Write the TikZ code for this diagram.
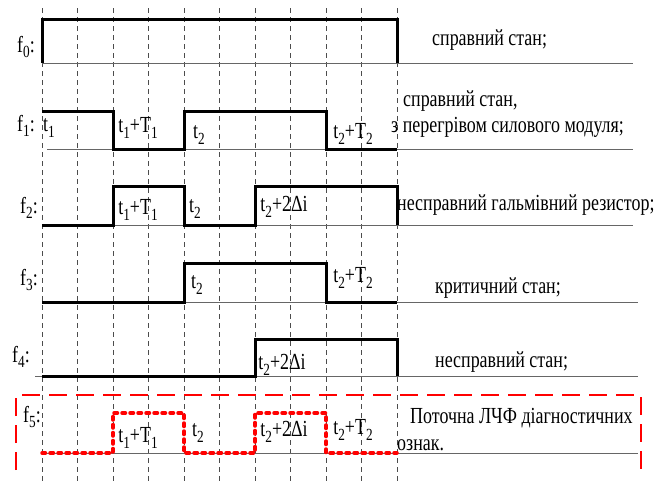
\documentclass[tikz,border=0pt]{standalone}
\usepackage{fontspec}
\setmainfont{Liberation Serif}[FakeStretch=0.78]
% small lowered index used in the signal and time labels
\newcommand\ix[1]{\raisebox{-0.5ex}{\fontsize{17}{17}\selectfont #1}}
\begin{document}
\begin{tikzpicture}[x=1pt,y=-1pt,
  gridline/.style={gray!60!black, line width=0.6pt, dash pattern=on 5pt off 4pt},
  baseline/.style={gray!80!black, line width=1pt},
  sig/.style={line width=3pt, line join=miter},
  dotsig/.style={red, line width=3.5pt, dash pattern=on 3.5pt off 4.5pt, line cap=round},
  frameline/.style={red, line width=1.5pt, dash pattern=on 18pt off 9pt},
  lbl/.style={inner sep=0pt, font=\fontsize{23}{26}\selectfont},
  note/.style={inner sep=0pt, anchor=west, font=\fontsize{23}{26}\selectfont}]
\useasboundingbox (0,0) rectangle (663,483);

% time grid
\foreach \i in {0,...,10}
  \draw[gridline] ({42+35.5*\i},8) -- ({42+35.5*\i},483);

% zero levels
\draw[baseline] (42,63) -- (633,63);
\draw[baseline] (47,149) -- (633,149);
\draw[baseline] (42,225) -- (633,225);
\draw[baseline] (42,302) -- (638,302);
\draw[baseline] (35,376) -- (638,376);
\draw[baseline] (42,453) -- (638,453);

% signals
\draw[sig] (42,63) -- (42,19) -- (397,19) -- (397,63);
\draw[sig] (42,111) -- (113,111) -- (113,149) -- (184,149) -- (184,111) -- (326,111) -- (326,149) -- (397,149);
\draw[sig] (42,225) -- (113,225) -- (113,186) -- (184,186) -- (184,225) -- (255,225) -- (255,186) -- (397,186) -- (397,225);
\draw[sig] (42,302) -- (184,302) -- (184,263) -- (326,263) -- (326,302) -- (397,302);
\draw[sig] (42,376) -- (255,376) -- (255,339) -- (397,339) -- (397,376);
\draw[dotsig] (42,453) -- (113,453) -- (113,413) -- (184,413) -- (184,453) -- (255,453) -- (255,413) -- (326,413) -- (326,453) -- (397,453);

% frame round the current signature
\draw[frameline] (16,470) -- (16,395) -- (641,395) -- (641,470);

% signal names
\node[lbl] (f0) at (26,47) {f\ix{0}:};
\node[lbl] (f1) at (26,126) {f\ix{1}:};
\node[lbl] (f2) at (29,208) {f\ix{2}:};
\node[lbl] (f3) at (29,280) {f\ix{3}:};
\node[lbl] (f4) at (21,357) {f\ix{4}:};
\node[lbl] (f5) at (32,417) {f\ix{5}:};

% time marks
\node[lbl] (a1) at (49,128) {t\ix{1}};
\node[lbl] (a2) at (138,128) {t\ix{1}+T\ix{1}};
\node[lbl] (a3) at (199,135) {t\ix{2}};
\node[lbl] (a4) at (353,134) {t\ix{2}+T\ix{2}};
\node[lbl] (b1) at (138,210) {t\ix{1}+T\ix{1}};
\node[lbl] (b2) at (195,209) {t\ix{2}};
\node[lbl] (b3) at (284,207) {t\ix{2}+2Δi};
\node[lbl] (c1) at (197,285) {t\ix{2}};
\node[lbl] (c2) at (353,278) {t\ix{2}+T\ix{2}};
\node[lbl] (d1) at (282,365) {t\ix{2}+2Δi};
\node[lbl] (e1) at (138,438) {t\ix{1}+T\ix{1}};
\node[lbl] (e2) at (198,433) {t\ix{2}};
\node[lbl] (e3) at (284,432) {t\ix{2}+2Δi};
\node[lbl] (e4) at (353,430) {t\ix{2}+T\ix{2}};

% states
\node[note] (s0) at (432,40) {справний стан;};
\node[note] (s1) at (403,101) {справний стан,};
\node[note] (s1b) at (391,127) {з перегрівом силового модуля;};
\node[note] (s2) at (397,205) {несправний гальмівний резистор;};
\node[note] (s3) at (435,288) {критичний стан;};
\node[note] (s4) at (435,362) {несправний стан;};
\node[note] (s5) at (410,418) {Поточна ЛЧФ діагностичних};
\node[note] (s5b) at (397,445) {ознак.};
\end{tikzpicture}
\end{document}
